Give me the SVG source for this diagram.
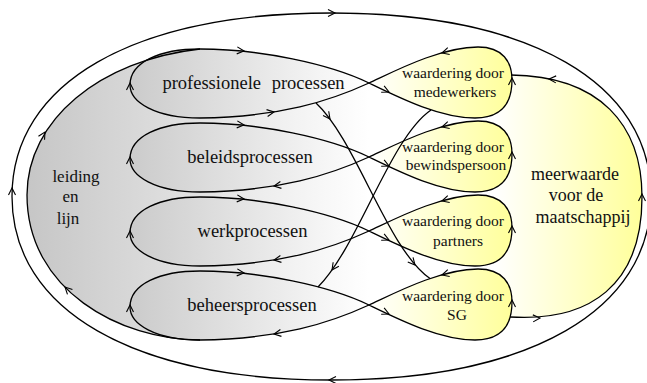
<svg xmlns="http://www.w3.org/2000/svg" width="647" height="383" viewBox="0 0 647 383">
<defs>
<linearGradient id="gBig" x1="0" y1="0" x2="1" y2="0"><stop offset="0" stop-color="#c6c6c6"/><stop offset="1" stop-color="#ffffff"/></linearGradient>
<linearGradient id="gProc" x1="0" y1="0" x2="1" y2="0"><stop offset="0" stop-color="#cbcbcb"/><stop offset="1" stop-color="#ffffff"/></linearGradient>
<linearGradient id="gWaard" x1="0" y1="0" x2="1" y2="0"><stop offset="0" stop-color="#ffffff"/><stop offset="1" stop-color="#ffff9a"/></linearGradient>
<linearGradient id="gMeer" x1="0" y1="0" x2="1" y2="0"><stop offset="0" stop-color="#ffffff"/><stop offset="1" stop-color="#ffff9a"/></linearGradient>
<path id="ah" d="M-7,-3.5 L0,0 L-7,3.5" fill="none" stroke="#000" stroke-width="1.1"/>
</defs>
<style>
.ln{fill:none;stroke:#000;stroke-width:1.3}
.lp{fill:url(#gProc);stroke:#000;stroke-width:1.3}
.rp{fill:url(#gWaard);stroke:#000;stroke-width:1.3}
.t{font-family:"Liberation Serif","Times New Roman",serif;fill:#111;text-anchor:middle}
.tp{font-size:18.5px}
.tw{font-size:15.5px}
.tm{font-size:18px}
.tl{font-size:17px}
</style>
<rect width="647" height="383" fill="#fff"/>

<g id="leiding-en-lijn">
<path d="M200,340 C120,340 27,290 27,195 C27,120 100,60 200,49 L369,83 L369,305 Z" fill="url(#gBig)"/>
<text class="t tl" x="76" y="182">leiding</text>
<text class="t tl" x="70.5" y="202">en</text>
<text class="t tl" x="68" y="224">lijn</text>
</g>

<g id="meerwaarde">
<path d="M510,317 C590,322 642,285 642,197 C642,125 600,76 511,75 L495,80 L495,316 Z" fill="url(#gMeer)"/>
<text class="t tm" x="575" y="180">meerwaarde</text>
<text class="t tm" x="576" y="200.5">voor de</text>
<text class="t tm" x="583" y="223">maatschappij</text>
</g>

<g id="professionele-processen">
<path class="lp" d="M369,83 C330,101 280,117 200,118 C155,118 130,102 130,85 C130,62 160,49 200,49 C260,49 330,64 369,83 Z"/>
<text class="t tp" x="253.5" y="89" word-spacing="6">professionele processen</text>
</g>
<g id="beleidsprocessen">
<path class="lp" transform="translate(0,74)" d="M369,83 C330,101 280,117 200,118 C155,118 130,102 130,85 C130,62 160,49 200,49 C260,49 330,64 369,83 Z"/>
<text class="t tp" x="250" y="163">beleidsprocessen</text>
</g>
<g id="werkprocessen">
<path class="lp" transform="translate(0,148)" d="M369,83 C330,101 280,117 200,118 C155,118 130,102 130,85 C130,62 160,49 200,49 C260,49 330,64 369,83 Z"/>
<text class="t tp" x="252.5" y="237">werkprocessen</text>
</g>
<g id="beheersprocessen">
<path class="lp" transform="translate(0,222)" d="M369,83 C330,101 280,117 200,118 C155,118 130,102 130,85 C130,62 160,49 200,49 C260,49 330,64 369,83 Z"/>
<text class="t tp" x="252" y="311">beheersprocessen</text>
</g>

<g id="waardering-medewerkers">
<path class="rp" d="M369,83 C393,72 440,47 478,47 C503,47 512,62 512,80 C512,102 503,118 475,118 C440,118 400,98 369,83 Z"/>
<text class="t tw" x="453" y="78">waardering door</text>
<text class="t tw" x="455" y="97">medewerkers</text>
</g>
<g id="waardering-bewindspersoon">
<path class="rp" transform="translate(0,74)" d="M369,83 C393,72 440,47 478,47 C503,47 512,62 512,80 C512,102 503,118 475,118 C440,118 400,98 369,83 Z"/>
<text class="t tw" x="453" y="152">waardering door</text>
<text class="t tw" x="456" y="170">bewindspersoon</text>
</g>
<g id="waardering-partners">
<path class="rp" transform="translate(0,148)" d="M369,83 C393,72 440,47 478,47 C503,47 512,62 512,80 C512,102 503,118 475,118 C440,118 400,98 369,83 Z"/>
<text class="t tw" x="453" y="226">waardering door</text>
<text class="t tw" x="458" y="246">partners</text>
</g>
<g id="waardering-sg">
<path class="rp" transform="translate(0,222)" d="M369,83 C393,72 440,47 478,47 C503,47 512,62 512,80 C512,102 503,118 475,118 C440,118 400,98 369,83 Z"/>
<text class="t tw" x="453" y="301">waardering door</text>
<text class="t tw" x="457" y="320">SG</text>
</g>

<g id="connectors">
<path class="ln" d="M12,196.5 C12,82.7 133.4,13 331.5,13 C529.6,13 651,82.7 651,196.5 C651,310.3 529.6,380 331.5,380 C133.4,380 12,310.3 12,196.5 Z"/>
<path class="ln" d="M200,340 C120,340 27,290 27,195 C27,120 100,60 200,49"/>
<path class="ln" d="M510,317 C590,322 642,285 642,197 C642,125 600,76 511,75"/>
<path class="ln" d="M316,103 C356,140 388,250 430,278.5"/>
<path class="ln" d="M431,110 C390,138 358,247 318,287"/>

<use href="#ah" transform="translate(335,13)"/>
<use href="#ah" transform="translate(12,188) rotate(-90)"/>
<use href="#ah" transform="translate(329,380) rotate(180)"/>
<use href="#ah" transform="translate(45,132) rotate(-60)"/>
<use href="#ah" transform="translate(65,287) rotate(-135)"/>

<use href="#ah" transform="translate(130,83) rotate(-90)"/>
<use href="#ah" transform="translate(130,157) rotate(-90)"/>
<use href="#ah" transform="translate(130,231) rotate(-90)"/>
<use href="#ah" transform="translate(130,305) rotate(-90)"/>
<use href="#ah" transform="translate(244,51) rotate(5)"/>
<use href="#ah" transform="translate(244,125) rotate(5)"/>
<use href="#ah" transform="translate(244,199) rotate(5)"/>
<use href="#ah" transform="translate(244,273) rotate(5)"/>
<use href="#ah" transform="translate(274,112) rotate(-9)"/>
<use href="#ah" transform="translate(274,186) rotate(171)"/>
<use href="#ah" transform="translate(274,260) rotate(171)"/>
<use href="#ah" transform="translate(274,334) rotate(171)"/>

<use href="#ah" transform="translate(442,53) rotate(164)"/>
<use href="#ah" transform="translate(442,127) rotate(164)"/>
<use href="#ah" transform="translate(442,201) rotate(164)"/>
<use href="#ah" transform="translate(442,275) rotate(164)"/>
<use href="#ah" transform="translate(512,78) rotate(-90)"/>
<use href="#ah" transform="translate(512,152) rotate(-90)"/>
<use href="#ah" transform="translate(512,226) rotate(-90)"/>
<use href="#ah" transform="translate(512,300) rotate(-90)"/>
<use href="#ah" transform="translate(389,92) rotate(25)"/>
<use href="#ah" transform="translate(389,166) rotate(25)"/>
<use href="#ah" transform="translate(389,240) rotate(25)"/>
<use href="#ah" transform="translate(389,314) rotate(25)"/>

<use href="#ah" transform="translate(330,119) rotate(54)"/>
<use href="#ah" transform="translate(415,265) rotate(49)"/>
<use href="#ah" transform="translate(332,270) rotate(125)"/>

<use href="#ah" transform="translate(549,79) rotate(183)"/>
<use href="#ah" transform="translate(642,194) rotate(-90)"/>
<use href="#ah" transform="translate(540,318) rotate(-3)"/>
</g>
</svg>
